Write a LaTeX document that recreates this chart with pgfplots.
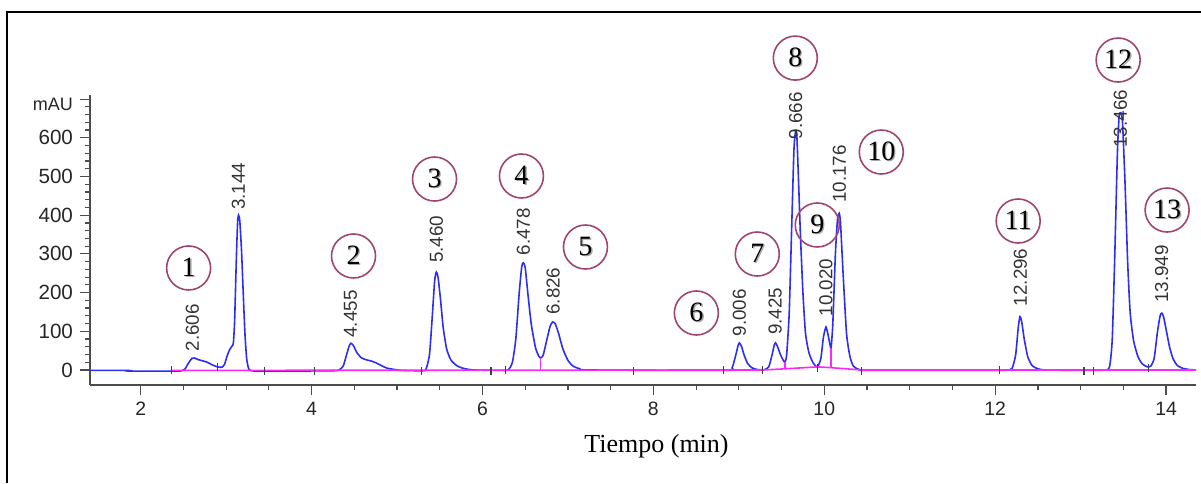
\documentclass[border=0pt]{standalone}
\usepackage{fontspec}
\setmainfont{Liberation Serif}
\newfontfamily\arial{Liberation Sans}
\usepackage{pgfplots}
\pgfplotsset{compat=1.18}
\definecolor{trace}{RGB}{45,45,250}
\definecolor{basel}{RGB}{250,40,250}
\definecolor{circ}{RGB}{160,70,110}
\newcommand\sh[1]{\makebox[0pt][l]{\hspace{0.7pt}\raisebox{-0.7pt}{\color{black!35}#1}}#1}
\begin{document}
\begin{tikzpicture}
\begin{axis}[
  at={(0pt,0pt)}, anchor=south west,
  scale only axis, width=553pt, height=145pt,
  xmin=1.407, xmax=14.35, ymin=-38.8, ymax=710.6,
  axis x line=bottom, axis y line=left,
  axis line style={-, black!70, line width=0.7pt},
  every tick/.style={black!70, line width=0.6pt},
  xtick={2,4,...,14}, minor x tick num=3,
  ytick={0,100,...,700}, yticklabels={0,100,200,300,400,500,600,{\raisebox{-5.6pt}[0pt][0pt]{\fontsize{9}{10}\selectfont mAU}}},
  minor y tick num=4,
  tick align=outside,
  major tick length=5pt, minor tick length=2.5pt,
  /pgf/number format/assume math mode=true,
  xticklabel style={font=\arial\fontsize{9.7}{10}\selectfont, text=black!85},
  yticklabel style={font=\arial\fontsize{10.3}{11}\selectfont, text=black!85},
  clip=false,
]
% chromatogram trace
\addplot[trace, line width=0.8pt, smooth, tension=0.35] coordinates {
(1.41,-1) (1.85,-1) (1.87,-3) (2.40,-3) (2.48,-2) (2.52,3) (2.56,18) (2.60,30) (2.63,31) (2.67,27)
(2.72,24) (2.78,20) (2.84,13) (2.90,8) (2.95,7) (2.98,14) (3.01,35) (3.04,52) (3.07,62) (3.085,70)
(3.10,130) (3.12,290) (3.135,385) (3.146,400) (3.16,385) (3.18,310) (3.20,200) (3.22,95) (3.24,30) (3.26,6)
(3.28,-1) (3.35,-3) (3.60,-3) (4.25,-2) (4.32,0) (4.37,10) (4.41,40) (4.44,62) (4.46,69) (4.49,63)
(4.53,45) (4.58,32) (4.63,27) (4.70,23) (4.76,18) (4.82,11) (4.88,5) (4.95,2) (5.05,-1) (5.30,-2)
(5.34,2) (5.38,40) (5.41,130) (5.44,230) (5.46,253) (5.48,240) (5.51,180) (5.54,110) (5.58,55) (5.63,26)
(5.70,11) (5.78,4) (5.90,0) (6.20,-1) (6.30,0) (6.35,20) (6.39,80) (6.43,200) (6.46,268) (6.478,277)
(6.50,265) (6.53,200) (6.57,120) (6.62,58) (6.66,35) (6.68,31) (6.71,38) (6.75,75) (6.79,112) (6.82,124)
(6.85,120) (6.89,95) (6.94,55) (7.00,25) (7.06,10) (7.14,3) (7.25,0) (8.85,-1) (8.92,5) (8.96,35)
(8.99,62) (9.006,70) (9.03,62) (9.06,40) (9.10,18) (9.15,6) (9.22,1) (9.30,1) (9.35,8) (9.39,40)
(9.415,65) (9.43,70) (9.45,62) (9.49,38) (9.52,25) (9.54,20) (9.56,40) (9.59,150) (9.62,380) (9.645,570)
(9.666,620) (9.68,600) (9.70,480) (9.72,354) (9.75,200) (9.78,95) (9.82,45) (9.87,18) (9.92,8) (9.96,30)
(9.99,85) (10.02,111) (10.045,90) (10.07,62) (10.08,57) (10.10,120) (10.13,300) (10.155,390) (10.175,405) (10.19,380)
(10.22,250) (10.26,95) (10.30,35) (10.34,10) (10.40,2) (10.50,-1) (11.50,-1) (12.05,-1) (12.15,0) (12.20,5)
(12.24,40) (12.27,110) (12.29,138) (12.31,125) (12.34,80) (12.38,35) (12.43,12) (12.50,3) (12.60,0) (13.05,-1)
(13.30,0) (13.34,10) (13.37,80) (13.40,300) (13.43,560) (13.45,655) (13.47,665) (13.49,640) (13.52,480) (13.55,280)
(13.58,147) (13.62,75) (13.67,35) (13.72,16) (13.78,8) (13.82,10) (13.86,30) (13.90,100) (13.93,140) (13.95,147)
(13.97,138) (14.00,105) (14.04,60) (14.08,30) (14.13,12) (14.20,4) (14.28,1) (14.35,0)
};
% integration baseline
\addplot[basel, line width=0.8pt] coordinates {
(2.36,-1) (9.28,0) (9.54,3) (9.92,8) (10.08,6) (10.44,0) (14.35,0)
};
\addplot[basel, line width=0.8pt] coordinates {(6.68,0) (6.68,31)};
\addplot[basel, line width=0.8pt] coordinates {(9.54,3) (9.54,20)};
\addplot[basel, line width=0.8pt] coordinates {(10.08,6) (10.08,57)};
% integration event ticks
\addplot[only marks, mark=|, mark size=2pt, black!75, mark options={line width=0.6pt}] coordinates {
(2.36,0) (2.90,8) (3.45,-3) (4.03,-3) (5.29,-3) (6.10,-3) (6.27,-1) (7.77,-3) (8.82,-1)
(9.28,0) (9.92,5) (10.44,-3) (12.05,-1) (13.04,-3) (13.15,-3) (13.79,5)
};
% retention time labels
\begin{scope}[every node/.style={rotate=90, anchor=west, inner sep=0pt, font=\arial\fontsize{9.4}{10}\selectfont, text=black!80}]
\node at (axis cs:2.606,47) {2.606};
\node at (axis cs:3.144,413) {3.144};
\node at (axis cs:4.455,83) {4.455};
\node at (axis cs:5.460,276) {5.460};
\node at (axis cs:6.478,295) {6.478};
\node at (axis cs:6.826,142) {6.826};
\node at (axis cs:9.006,86) {9.006};
\node at (axis cs:9.425,90) {9.425};
\node at (axis cs:9.666,595) {9.666};
\node at (axis cs:10.020,138) {10.020};
\node at (axis cs:10.176,431) {10.176};
\node at (axis cs:12.296,164) {12.296};
\node at (axis cs:13.466,574) {13.466};
\node at (axis cs:13.949,173) {13.949};
\end{scope}
% circled peak numbers
\begin{scope}[every node/.style={circle, draw=circ, line width=0.8pt, minimum size=22pt, inner sep=0pt, font=\fontsize{14}{15}\selectfont}]
\node at (axis cs:2.561,263.6) {\sh{1}};
\node at (axis cs:4.491,294.6) {\sh{2}};
\node at (axis cs:5.439,493.5) {\sh{3}};
\node at (axis cs:6.456,501.3) {\sh{4}};
\node at (axis cs:7.205,317.8) {\sh{5}};
\node at (axis cs:8.503,147.3) {\sh{6}};
\node at (axis cs:9.216,299.7) {\sh{7}};
\node at (axis cs:9.661,806) {\sh{8}};
\node at (axis cs:9.918,374.7) {\sh{9}};
\node at (axis cs:10.667,563.3) {\sh{10}};
\node at (axis cs:12.269,385) {\sh{11}};
\node at (axis cs:13.439,801) {\sh{12}};
\node at (axis cs:14.012,413.4) {\sh{13}};
\end{scope}
\end{axis}
\node[anchor=base, font=\fontsize{13}{14}\selectfont] at (283.25pt,-33.5pt) {Tiempo (min)};
\draw[line width=1pt] (-41.5pt,-49pt) -- (-41.5pt,186.5pt) -- (555.5pt,186.5pt);
\pgfresetboundingbox
\path[use as bounding box] (-45pt,-49pt) rectangle (555.5pt,192.5pt);
\end{tikzpicture}
\end{document}
